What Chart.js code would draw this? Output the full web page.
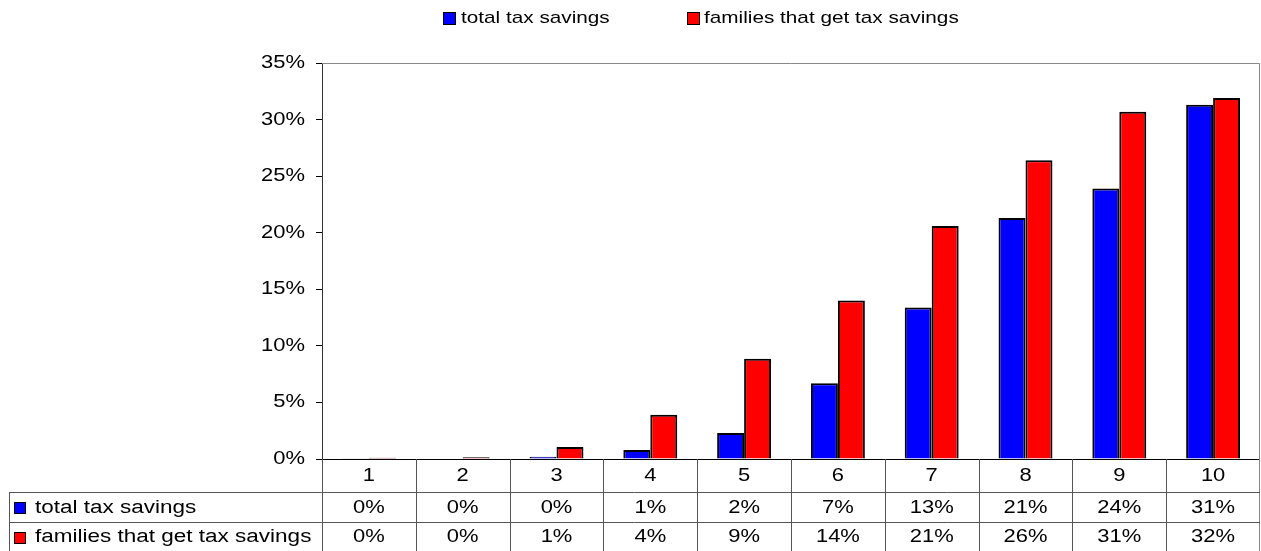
<!DOCTYPE html>
<html>
<head>
<meta charset="utf-8">
<script src="https://cdn.jsdelivr.net/npm/chart.js@4/dist/chart.umd.min.js"></script>
<style>
    body { margin: 0; background: #fff; }
    #chart { display: block; }
</style>
</head>
<body>
<canvas id="chart" width="1261" height="551"></canvas>
<script>
const categories = ['1', '2', '3', '4', '5', '6', '7', '8', '9', '10'];
const seriesNames = ['total tax savings', 'families that get tax savings'];
const totalSavings = [0.03, 0, 0.2, 0.8, 2.3, 6.7, 13.4, 21.3, 23.9, 31.3];
const familiesSavings = [0.1, 0.15, 1.06, 3.9, 8.85, 14.0, 20.6, 26.4, 30.7, 31.9];
const seriesColors = ['#0000ff', '#ff0000'];

// text in the original is a bit wider than plain Arial
const FONT_FAMILY = '"Liberation Sans", Arial, sans-serif';

function wideText(ctx, text, x, y, align, size, stretch) {
    ctx.save();
    ctx.translate(x, y);
    ctx.scale(stretch, 1);
    ctx.font = size + 'px ' + FONT_FAMILY;
    ctx.fillStyle = '#000';
    ctx.textAlign = align;
    ctx.textBaseline = 'middle';
    ctx.fillText(text, 0, 0);
    ctx.restore();
}

function keyBox(ctx, x, y, size, color) {
    const top = Math.round(y - size / 2);
    ctx.fillStyle = color;
    ctx.fillRect(x, top, size, size);
    ctx.strokeStyle = '#000';
    ctx.lineWidth = 1;
    ctx.strokeRect(x + 0.5, top + 0.5, size - 1, size - 1);
}

const tablePlugin = {
    id: 'dataTable',
    afterDatasetsDraw(chart) {
        const ctx = chart.ctx;
        const area = chart.chartArea;
        const y = chart.scales.y;
        const zero = Math.round(y.getPixelForValue(0)) + 0.5;
        ctx.save();
        ctx.strokeStyle = '#000';
        ctx.lineWidth = 1;
        ctx.beginPath();
        ctx.moveTo(area.left, zero);
        ctx.lineTo(area.right, zero);
        ctx.stroke();
        ctx.restore();
    },
    afterDraw(chart) {
        const ctx = chart.ctx;
        const area = chart.chartArea;
        const x = chart.scales.x;
        const y = chart.scales.y;
        const rowTop = [area.bottom, 492, 522, 551];

        ctx.save();
        // plot frame, top and right
        ctx.strokeStyle = '#888';
        ctx.lineWidth = 1;
        ctx.beginPath();
        ctx.moveTo(area.left, area.top + 0.5);
        ctx.lineTo(area.right - 0.5, area.top + 0.5);
        ctx.lineTo(area.right - 0.5, chart.height);
        ctx.stroke();

        // table grid
        ctx.strokeStyle = '#555';
        ctx.beginPath();
        const step = (area.right - area.left) / categories.length;
        for (let i = 1; i < categories.length; i++) {
            const vx = Math.round(area.left + i * step) + 0.5;
            ctx.moveTo(vx, area.bottom);
            ctx.lineTo(vx, chart.height);
        }
        ctx.moveTo(area.left + 0.5, area.bottom);
        ctx.lineTo(area.left + 0.5, chart.height);
        ctx.moveTo(9.5, rowTop[1]);
        ctx.lineTo(9.5, chart.height);
        [rowTop[1], rowTop[2]].forEach(ry => {
            ctx.moveTo(9, ry + 0.5);
            ctx.lineTo(area.right, ry + 0.5);
        });
        ctx.stroke();
        ctx.restore();

        // y tick labels
        y.ticks.forEach(t => {
            wideText(ctx, t.value + '%', 305, y.getPixelForValue(t.value), 'right', 18, 1.22);
        });

        // category row and value rows
        const rows = [totalSavings, familiesSavings];
        categories.forEach((c, i) => {
            const cx = x.getPixelForValue(i);
            wideText(ctx, c, cx, (rowTop[0] + rowTop[1]) / 2 + 1, 'center', 18, 1.22);
            rows.forEach((vals, r) => {
                wideText(ctx, Math.round(vals[i]) + '%', cx, (rowTop[r + 1] + rowTop[r + 2]) / 2 + 1, 'center', 18, 1.22);
            });
        });
        seriesNames.forEach((name, r) => {
            const cy = (rowTop[r + 1] + rowTop[r + 2]) / 2 + 1;
            keyBox(ctx, 14, cy, 12, seriesColors[r]);
            wideText(ctx, name, 35, cy, 'left', 18, 1.25);
        });

        // legend on top
        keyBox(ctx, 443, 18, 13, seriesColors[0]);
        wideText(ctx, seriesNames[0], 461, 18, 'left', 17, 1.22);
        keyBox(ctx, 687, 18, 13, seriesColors[1]);
        wideText(ctx, seriesNames[1], 704, 18, 'left', 17, 1.22);
    }
};

new Chart(document.getElementById('chart'), {
    type: 'bar',
    data: {
        labels: categories,
        datasets: [
            {
                label: seriesNames[0],
                data: totalSavings,
                backgroundColor: seriesColors[0],
                borderColor: '#000',
                borderWidth: 2
            },
            {
                label: seriesNames[1],
                data: familiesSavings,
                backgroundColor: seriesColors[1],
                borderColor: '#000',
                borderWidth: 2
            }
        ]
    },
    options: {
        responsive: false,
        animation: false,
        devicePixelRatio: 1,
        layout: {
            padding: { left: 316, right: 1, top: 63, bottom: 92 }
        },
        datasets: {
            bar: { categoryPercentage: 0.575, barPercentage: 1 }
        },
        plugins: {
            legend: { display: false },
            tooltip: { enabled: false }
        },
        scales: {
            x: { display: false },
            y: {
                min: 0,
                max: 35,
                ticks: { stepSize: 5, display: false },
                grid: { drawOnChartArea: false, drawTicks: true, tickLength: 6, color: '#000' },
                border: { color: '#333' }
            }
        }
    },
    plugins: [tablePlugin]
});
</script>
</body>
</html>
